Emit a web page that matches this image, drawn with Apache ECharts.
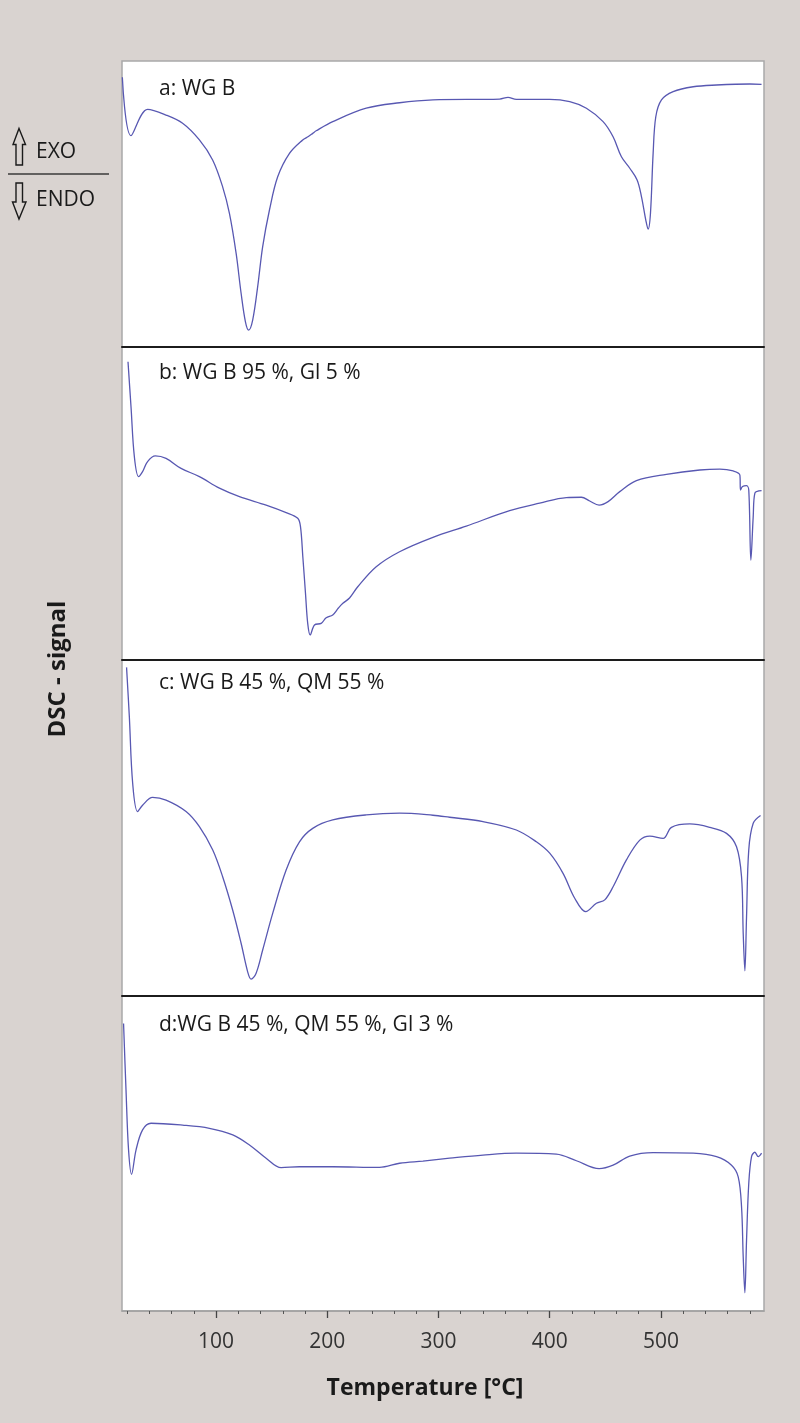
<!DOCTYPE html>
<html>
<head>
<meta charset="utf-8">
<script src="https://cdn.jsdelivr.net/npm/echarts@6/dist/echarts.min.js"></script>
<style>
  html, body { margin: 0; padding: 0; background: #d9d3d0; }
  #chart { width: 800px; height: 1423px; }
</style>
</head>
<body>
<div id="chart"></div>
<script>
// ---------- data (temperature in °C, DSC signal in arbitrary units, 0-100 per panel) ----------
const panelLabels = ['a: WG B', 'b: WG B 95 %, Gl 5 %', 'c: WG B 45 %, QM 55 %', 'd:WG B 45 %, QM 55 %, Gl 3 %'];

const tempA = [15.7, 23.5, 38.4, 55, 69.9, 85, 96.9, 105.9, 112, 118, 122.5, 126.4, 129.3, 132.9, 137.4, 141.9, 148, 155.4, 166, 177.9, 183, 186.9, 190, 204.9, 235, 265, 295, 355, 362.5, 370, 400, 418, 433, 448, 457, 464.5, 472, 478.6, 482.5, 486.4, 488.5, 490.6, 493, 495.4, 500.5, 511, 529, 550, 580, 590.5];
const dscA  = [94.3, 73.9, 83.1, 81.1, 78.2, 72.4, 65.4, 56, 46.7, 32.8, 18.8, 8.8, 5.9, 9.4, 21.1, 35.1, 47.9, 59.5, 67.7, 72.4, 73.6, 74.7, 75.6, 78.8, 83.5, 85.4, 86.4, 86.7, 87.3, 86.6, 86.6, 85.8, 83.5, 78.8, 73.5, 66.5, 62.5, 58.4, 52.6, 44.4, 41.2, 46.7, 67.7, 80.5, 86.4, 89.3, 91, 91.6, 91.96, 91.85];

const tempB = [20.8, 23.5, 26.5, 30.3, 33.9, 38.4, 45.4, 55, 68.5, 85, 103, 121, 145, 163, 173.4, 175.9, 178, 180.4, 182.4, 184.6, 188.5, 194.5, 199, 204.9, 210, 214, 220, 227.4, 244, 265, 295, 325, 364, 391, 415, 428.5, 436, 444.4, 452.5, 463, 478, 505, 535, 553, 565, 571, 571.6, 573.4, 577, 579, 580.9, 583, 584.5, 590.5];
const dscB  = [95.3, 80.9, 65, 58.6, 60.2, 63.4, 65.2, 64.4, 61.2, 58.6, 54.9, 52.2, 49.5, 47.1, 45.3, 42.6, 33, 21.3, 11.7, 8, 11.2, 11.7, 13.5, 14.4, 16.6, 18.1, 19.8, 23.4, 29.8, 34.6, 39.2, 42.8, 47.7, 50.1, 51.9, 52, 50.8, 49.5, 50.6, 53.8, 57.3, 59.3, 60.7, 61, 60.4, 59.1, 54.3, 55.4, 55.7, 54.3, 31.9, 45.8, 53.3, 54.1];

const tempC = [19.5, 22, 25, 29.4, 33.9, 42.9, 55, 73, 85, 96.9, 105.9, 114.9, 122.5, 128.4, 131.5, 136, 141.9, 150.9, 163, 175, 186.9, 204.9, 235, 265, 295, 310, 340, 370, 388, 400, 412, 422.5, 432.4, 442, 449.5, 457, 469, 481, 490, 502, 509.5, 526, 544, 559, 568, 572.5, 574, 575.5, 577, 579, 583, 589.6];
const dscC  = [97.8, 83.1, 63.3, 54.9, 56.8, 59.1, 58.3, 54.9, 50.4, 43.5, 35.5, 25.6, 15.7, 7.2, 5, 6.8, 13.7, 24.6, 37.5, 45.9, 49.9, 52.4, 53.9, 54.4, 53.8, 53.2, 51.9, 49.4, 45.9, 42.5, 36.5, 29.1, 25.1, 27.6, 28.6, 32.5, 40.5, 46.4, 47.6, 46.9, 50.2, 51.2, 50.2, 48.4, 44.4, 35.5, 18.7, 7.5, 23.6, 43.5, 51.4, 53.7];

const tempD = [16.8, 19, 21.3, 24, 28, 33.9, 41.5, 69.9, 94, 115, 130, 145, 158.5, 175, 204.9, 247, 265, 286, 310, 340, 370, 406, 424, 444.4, 457, 472, 493, 529, 550, 563.5, 569.5, 572.5, 574, 575.5, 577, 579, 581.5, 584.5, 587.5, 590.5];
const dscD  = [91.3, 70.2, 51.1, 43.4, 51.1, 57.5, 59.6, 59, 58, 55.9, 52.7, 48.5, 45.5, 45.8, 45.8, 45.6, 46.9, 47.6, 48.5, 49.5, 50.1, 49.8, 47.7, 45.2, 46.3, 49.2, 50.3, 50.1, 49, 46.3, 42.6, 33.1, 17.2, 5.8, 22.5, 40.5, 49, 50.4, 49, 50.1];

const majorTicks = [100, 200, 300, 400, 500];
const minorTicks = [20, 40, 60, 80, 120, 140, 160, 180, 220, 240, 260, 280, 320, 340, 360, 380, 420, 440, 460, 480, 520, 540, 560, 580];
const tempMin = 15.4, tempMax = 592.7;

// ---------- chart ----------
const temps = [tempA, tempB, tempC, tempD];
const dscs = [dscA, dscB, dscC, dscD];
const FONT = '"Open Sans", "Noto Sans", sans-serif';
const LINE = '#5858b2';

const grids = [
  { left: 122, width: 642, top: 61,  height: 286 },
  { left: 122, width: 642, top: 347, height: 313 },
  { left: 122, width: 642, top: 660, height: 336 },
  { left: 122, width: 642, top: 996, height: 315 }
].map(g => Object.assign(g, { show: true, backgroundColor: '#ffffff', borderColor: '#a9a9a9', borderWidth: 1.5 }));

const xAxes = [];
const yAxes = [];
const series = [];
for (let i = 0; i < 4; i++) {
  const last = i === 3;
  xAxes.push({
    type: 'value', gridIndex: i, min: tempMin, max: tempMax, position: 'bottom',
    axisLine: { show: true, onZero: false, lineStyle: { color: last ? '#a0a0a0' : '#1c1c1c', width: last ? 1.5 : 2 } },
    axisTick: last ? { show: true, length: 7, customValues: majorTicks, lineStyle: { color: '#444', width: 1.3 } } : { show: false },
    axisLabel: last ? { show: true, customValues: majorTicks, fontSize: 21, color: '#333', fontFamily: FONT, margin: 21 } : { show: false },
    splitLine: { show: false }
  });
  yAxes.push({
    type: 'value', gridIndex: i, min: 0, max: 100,
    axisLine: { show: false }, axisTick: { show: false }, axisLabel: { show: false }, splitLine: { show: false }
  });
  series.push({
    type: 'line', xAxisIndex: i, yAxisIndex: i,
    data: temps[i].map((t, k) => [t, dscs[i][k]]),
    showSymbol: false, smooth: 0.35,
    lineStyle: { color: LINE, width: 1.3 },
    animation: false, silent: true
  });
}
// minor ticks axis on bottom panel
xAxes.push({
  type: 'value', gridIndex: 3, min: tempMin, max: tempMax, position: 'bottom',
  axisLine: { show: false },
  axisTick: { show: true, length: 3, customValues: minorTicks, lineStyle: { color: '#555', width: 1 } },
  axisLabel: { show: false }, splitLine: { show: false }
});

const labelY = [89, 373, 683, 1025];
const graphic = panelLabels.map((txt, i) => ({
  type: 'text', x: 159, y: labelY[i],
  style: { text: txt, fontSize: 21, fontFamily: FONT, fill: '#1a1a1a', align: 'left', verticalAlign: 'middle' }
}));

graphic.push(
  { type: 'polygon', shape: { points: [[19, 128.5], [25.5, 144.5], [22.5, 144.5], [22.5, 165], [16, 165], [16, 144.5], [13, 144.5]] },
    style: { fill: 'none', stroke: '#1a1a1a', lineWidth: 1.4 } },
  { type: 'text', x: 36, y: 152, style: { text: 'EXO', fontSize: 21, fontFamily: FONT, fill: '#1a1a1a', align: 'left', verticalAlign: 'middle' } },
  { type: 'line', shape: { x1: 8, y1: 174, x2: 109, y2: 174 }, style: { stroke: '#3a3a3a', lineWidth: 1.5 } },
  { type: 'polygon', shape: { points: [[16, 183], [22.5, 183], [22.5, 202], [26, 202], [19, 219], [12.5, 202], [16, 202]] },
    style: { fill: 'none', stroke: '#1a1a1a', lineWidth: 1.4 } },
  { type: 'text', x: 36, y: 200, style: { text: 'ENDO', fontSize: 21, fontFamily: FONT, fill: '#1a1a1a', align: 'left', verticalAlign: 'middle' } },
  { type: 'text', x: 58, y: 669, rotation: Math.PI / 2,
    style: { text: 'DSC - signal', fontSize: 24, fontWeight: 'bold', fontFamily: FONT, fill: '#1a1a1a', align: 'center', verticalAlign: 'middle' } },
  { type: 'text', x: 425, y: 1388,
    style: { text: 'Temperature [°C]', fontSize: 23, fontWeight: 'bold', fontFamily: FONT, fill: '#1a1a1a', align: 'center', verticalAlign: 'middle' } }
);

const chart = echarts.init(document.getElementById('chart'), null, { renderer: 'canvas' });
chart.setOption({
  backgroundColor: '#d9d3d0',
  animation: false,
  grid: grids,
  xAxis: xAxes,
  yAxis: yAxes,
  series: series,
  graphic: graphic
});
</script>
</body>
</html>
